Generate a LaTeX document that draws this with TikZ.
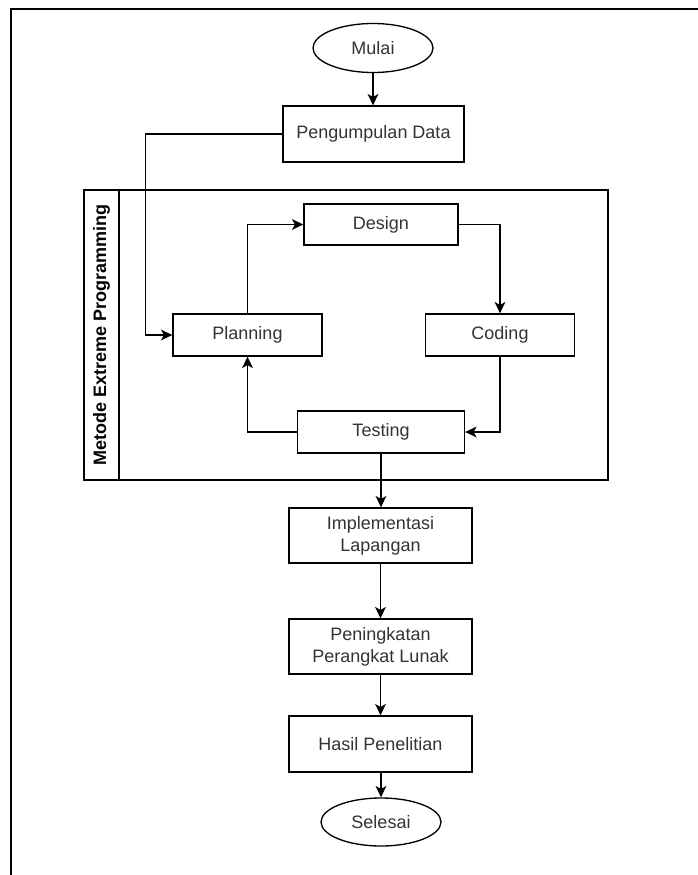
\documentclass[tikz,border=0pt]{standalone}
\usepackage{fontspec}
\setmainfont{Liberation Sans}
\usetikzlibrary{arrows.meta,shapes.geometric}
\begin{document}
\begin{tikzpicture}[x=0.75pt,y=-0.75pt,
  font=\fontsize{13.5}{16.5}\selectfont,
  box/.style={draw,line width=1pt,inner sep=0pt,align=center,text=black!80},
  term/.style={draw,ellipse,line width=1pt,inner sep=0pt,text=black!80},
  conn/.style={line width=1pt,-{Stealth[length=8.5pt,width=8pt,inset=2.2pt]}},
  plainline/.style={line width=1pt}]
\useasboundingbox (0,0) rectangle (698,875);
\fill[white] (0,0) rectangle (698,875);
\draw[line width=1.5pt] (698,9) -- (11,9) -- (11,875);

% container
\node[draw,line width=1pt,minimum width=393pt,minimum height=217.5pt,inner sep=0pt] (xp) at (346,335) {};
\draw[plainline] (119,190) -- (119,480);
\node[rotate=90,font=\fontsize{13.5}{16.5}\selectfont\bfseries] (xplabel) at (101.5,335) {Metode Extreme Programming};

% nodes
\node[term,minimum width=90pt,minimum height=36.75pt] (mulai) at (373,48) {Mulai};
\node[box,minimum width=135.75pt,minimum height=42pt] (peng) at (373.5,134) {Pengumpulan Data};
\node[box,minimum width=115.5pt,minimum height=30.75pt] (design) at (381,224.5) {Design};
\node[box,minimum width=111.75pt,minimum height=31.5pt] (plan) at (247.5,335) {Planning};
\node[box,minimum width=111.75pt,minimum height=31.5pt] (coding) at (500,335) {Coding};
\node[box,minimum width=125.25pt,minimum height=31.5pt] (testing) at (381,432) {Testing};
\node[box,minimum width=137.25pt,minimum height=41.25pt] (impl) at (380.5,535.5) {Implementasi\\Lapangan};
\node[box,minimum width=137.25pt,minimum height=41.25pt] (pening) at (380.5,646.5) {Peningkatan\\Perangkat Lunak};
\node[box,minimum width=137.25pt,minimum height=42pt] (hasil) at (380.5,744) {Hasil Penelitian};
\node[term,minimum width=90pt,minimum height=36pt] (selesai) at (381,822) {Selesai};

% connectors
\draw[conn] (mulai.south) -- (mulai.south |- peng.north);
\draw[conn] (peng.west) -- ++(-137,0) |- (plan.west);
\draw[conn] (plan.north) |- (design.west);
\draw[conn] (design.east) -| (coding.north);
\draw[conn] (coding.south) |- (testing.east);
\draw[conn] (testing.west) -| (plan.south);
\draw[conn] (testing.south) -- (testing.south |- impl.north);
\draw[conn] (impl.south) -- (pening.north);
\draw[conn] (pening.south) -- (hasil.north);
\draw[conn] (hasil.south) -- (hasil.south -| selesai.north) -- (selesai.north);
\end{tikzpicture}
\end{document}
